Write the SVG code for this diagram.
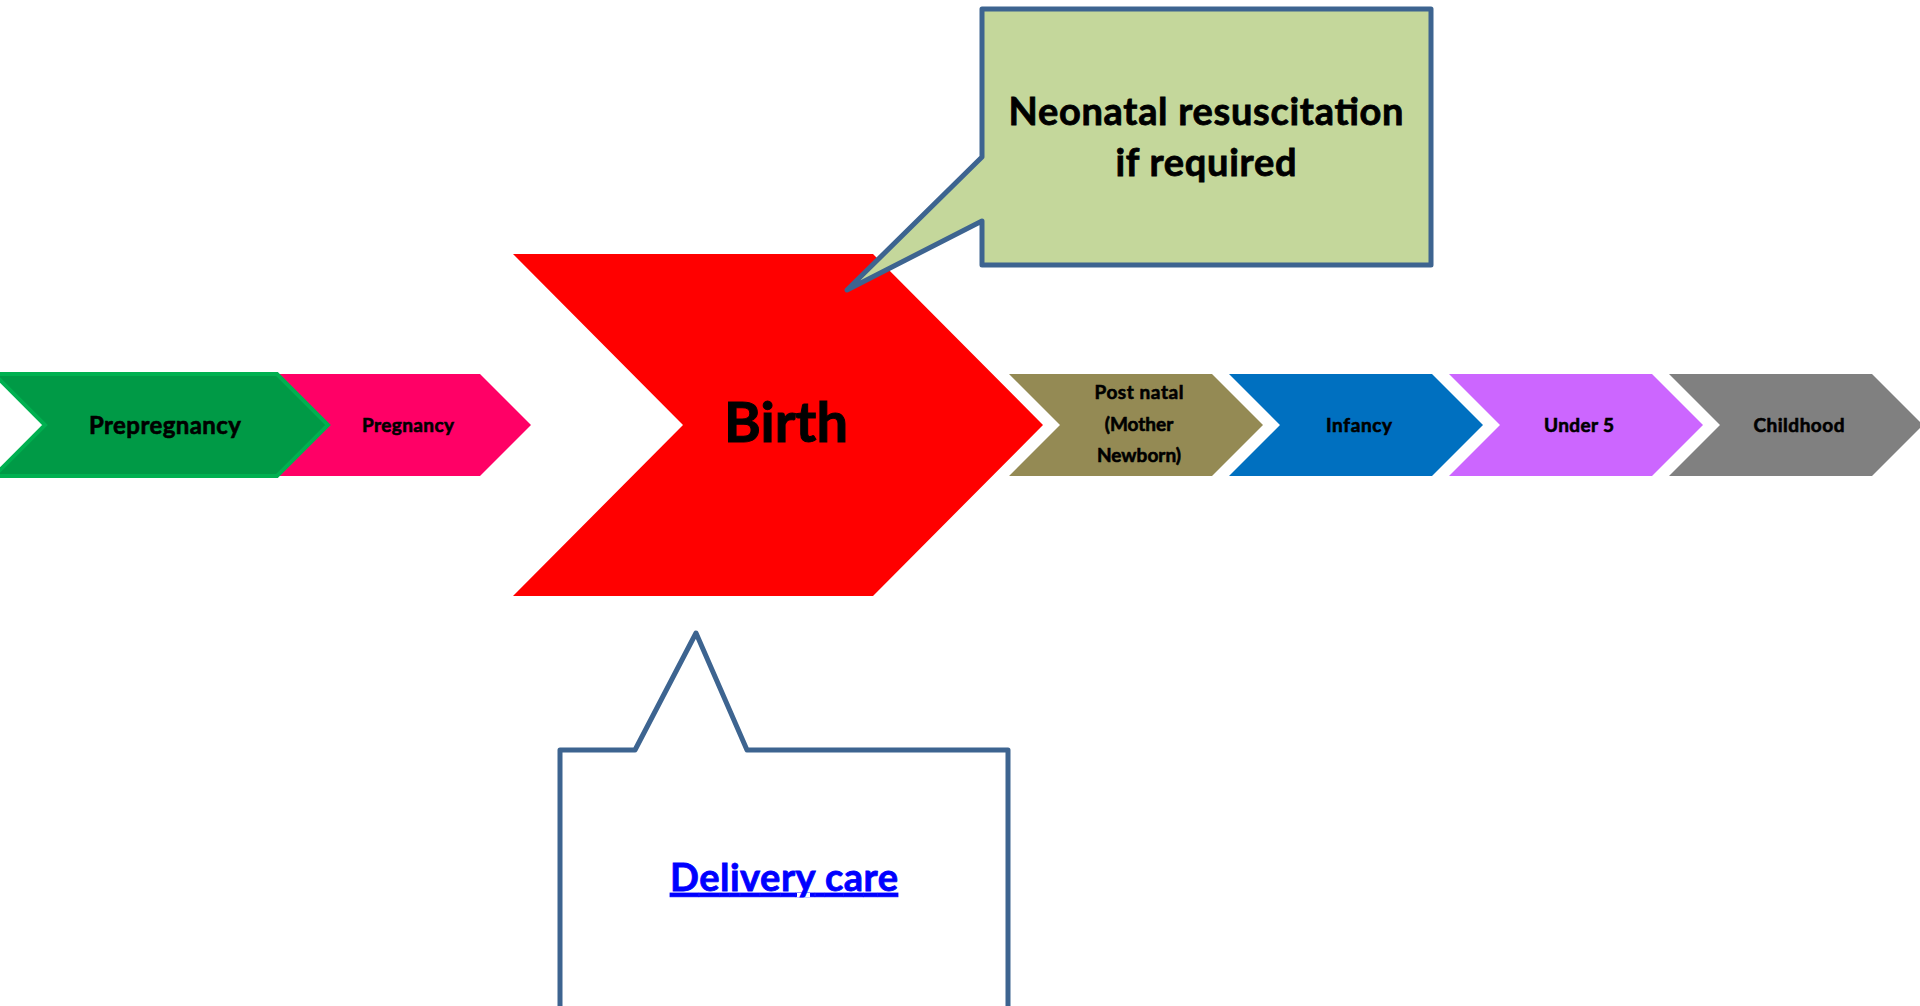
<svg xmlns="http://www.w3.org/2000/svg" width="1920" height="1006" viewBox="0 0 1920 1006">
  <style>
    .lbl { font-family: Lato, "Open Sans", "Liberation Sans", sans-serif; font-weight: 700; fill: #000; stroke: #000; stroke-width: 0.6; text-anchor: middle; }
    .s { font-size: 19px; }
    .callout { stroke: #3d6490; stroke-width: 5; stroke-linejoin: round; }
  </style>
  <rect width="1920" height="1006" fill="#fff"/>

  <!-- timeline chevrons -->
  <g id="pregnancy">
    <polygon points="277,374 480,374 531,425 480,476 277,476 328,425" fill="#ff0066"/>
    <text class="lbl s" x="408" y="432" textLength="92">Pregnancy</text>
  </g>
  <g id="prepregnancy">
    <polygon points="-6,374 277,374 328,425 277,476 -6,476 45,425" fill="#009a46" stroke="#00b050" stroke-width="4"/>
    <text class="lbl" x="165" y="434" font-size="24" textLength="152">Prepregnancy</text>
  </g>
  <g id="birth">
    <polygon points="513,254 873,254 1043,425 873,596 513,596 683,425" fill="#ff0000"/>
    <text class="lbl" x="786" y="442" font-size="56" textLength="124" style="stroke-width:1">Birth</text>
  </g>
  <g id="postnatal">
    <polygon points="1009,374 1212,374 1263,425 1212,476 1009,476 1060,425" fill="#948a54"/>
    <text class="lbl s" x="1139" y="399" textLength="89">Post natal</text>
    <text class="lbl s" x="1139" y="431">(Mother</text>
    <text class="lbl s" x="1139" y="462">Newborn)</text>
  </g>
  <g id="infancy">
    <polygon points="1229,374 1432,374 1483,425 1432,476 1229,476 1280,425" fill="#0070c0"/>
    <text class="lbl s" x="1359" y="432" textLength="66">Infancy</text>
  </g>
  <g id="under5">
    <polygon points="1449,374 1652,374 1703,425 1652,476 1449,476 1500,425" fill="#cc66ff"/>
    <text class="lbl s" x="1579" y="432" textLength="70">Under 5</text>
  </g>
  <g id="childhood">
    <polygon points="1669,374 1872,374 1923,425 1872,476 1669,476 1720,425" fill="#808080"/>
    <text class="lbl s" x="1799" y="432" textLength="91">Childhood</text>
  </g>

  <!-- callouts pointing at the birth stage -->
  <g id="neonatal-resuscitation">
    <polygon class="callout" points="982,9 1431,9 1431,265 982,265 982,221 847,290 982,157" fill="#c4d79b"/>
    <text class="lbl" x="1206" y="125" font-size="38" textLength="395" style="stroke-width:0.8">Neonatal resuscitation</text>
    <text class="lbl" x="1206" y="176" font-size="38" textLength="181" style="stroke-width:0.8">if required</text>
  </g>
  <g id="delivery-care">
    <polygon class="callout" points="560,750 635,750 696,633 747,750 1008,750 1008,1012 560,1012" fill="#fff"/>
    <text class="lbl" x="784" y="891" font-size="38" textLength="228" style="fill:#0000ff;stroke:#0000ff;stroke-width:0.8" text-decoration="underline">Delivery care</text>
  </g>
</svg>
